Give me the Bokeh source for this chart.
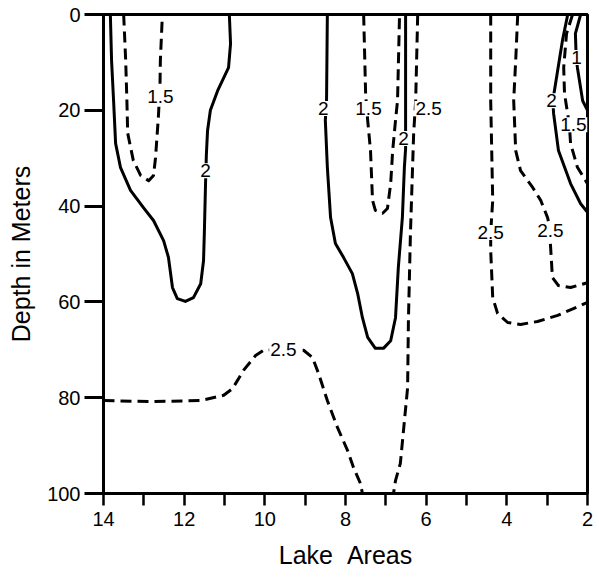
from bokeh.plotting import figure
from bokeh.models import Range1d, FixedTicker, ColumnDataSource
from bokeh.embed import file_html
from bokeh.resources import INLINE
from bokeh.core.properties import value

FONT = "Liberation Sans"

# Contour lines: lake area (x) vs depth in meters (y)
# left solid "2"
s2a_x = [13.83, 13.80, 13.75, 13.70, 13.58, 13.33, 13.01, 12.76, 12.51, 12.39, 12.29, 12.17, 11.97, 11.77, 11.59, 11.52, 11.50, 11.47, 11.45, 11.42, 11.35, 11.17, 10.90, 10.85, 10.88]
s2a_d = [0, 9.6, 18.0, 26.9, 31.9, 36.7, 40.3, 43.0, 47.2, 50.7, 57.0, 59.3, 59.9, 59.1, 56.2, 51.4, 45.7, 35.3, 29.4, 24.2, 20.0, 15.9, 11.1, 6.1, 0]
# left dashed "1.5"
d15a_x = [13.50, 13.45, 13.42, 13.40, 13.26, 13.08, 12.88, 12.76, 12.71, 12.64, 12.60, 12.59, 12.54]
d15a_d = [0, 9.6, 18.0, 24.8, 30.5, 33.6, 34.7, 33.6, 29.9, 21.5, 15.0, 9.6, 0]
# middle solid "2"
s2b_x = [8.45, 8.47, 8.50, 8.45, 8.37, 8.25, 8.05, 7.83, 7.70, 7.58, 7.45, 7.26, 7.06, 6.88, 6.76, 6.69, 6.59, 6.54, 6.51, 6.51, 6.51]
s2b_d = [0, 18.0, 22.1, 31.9, 42.4, 47.8, 50.7, 54.1, 58.2, 63.3, 67.4, 69.7, 69.7, 68.1, 63.3, 52.8, 42.4, 31.9, 28.0, 18.0, 0]
# middle dashed "1.5"
d15b_x = [7.55, 7.50, 7.45, 7.38, 7.33, 7.26, 7.08, 6.96, 6.88, 6.83, 6.76, 6.71, 6.66]
d15b_d = [0, 16.9, 22.1, 28.4, 38.8, 40.9, 41.5, 40.5, 35.3, 28.4, 22.1, 18.0, 0]
# middle dashed "2.5" reaching the bottom
d25b_x = [6.21, 6.26, 6.31, 6.39, 6.44, 6.46, 6.64, 6.76, 6.81]
d25b_d = [0, 18.0, 24.8, 45.7, 63.9, 77.9, 93.7, 97.3, 100]
# lower dashed "2.5"
d25a_x = [14.0, 12.83, 11.59, 11.02, 10.80, 10.53, 10.23, 10.03, 9.54, 9.04, 8.82, 8.67, 8.45, 8.20, 7.95, 7.80, 7.63, 7.58]
d25a_d = [80.6, 80.8, 80.6, 79.5, 78.1, 74.3, 71.2, 70.1, 69.9, 70.1, 71.6, 74.9, 80.6, 86.2, 91.0, 94.6, 97.9, 100]
# right dashed "2.5" outer
d25c_x = [4.40, 4.40, 4.35, 4.40, 4.40, 4.35, 4.23, 3.98, 3.66, 3.24, 2.74, 2.35, 2.00]
d25c_d = [0, 18.0, 38.8, 45.5, 49.3, 59.1, 62.4, 64.3, 64.7, 64.1, 62.8, 61.4, 60.1]
# right dashed "2.5" inner
d25d_x = [3.73, 3.78, 3.83, 3.78, 3.66, 3.36, 3.16, 2.99, 2.92, 2.92, 2.87, 2.72, 2.42, 2.00]
d25d_d = [0, 9.6, 18.0, 28.4, 32.6, 36.1, 38.8, 42.4, 45.1, 47.8, 54.9, 56.6, 57.0, 56.0]
# right solid "2"
s2c_x = [2.49, 2.62, 2.74, 2.86, 2.84, 2.72, 2.42, 2.17, 2.00]
s2c_d = [0, 5.4, 11.7, 18.0, 20.7, 28.4, 35.3, 39.5, 41.3]
# right dashed "1.5"
d15c_x = [2.37, 2.52, 2.59, 2.57, 2.45, 2.42, 2.25, 2.00]
d15c_d = [0, 4.0, 11.1, 16.5, 23.0, 26.9, 31.9, 35.3]
# right solid "1"
s1_x = [2.17, 2.30, 2.28, 2.25, 2.12, 2.00]
s1_d = [0, 4.0, 9.0, 11.1, 18.0, 20.0]

# contour labels
lab_x = [12.59, 11.47, 8.55, 7.43, 6.56, 5.94, 9.54, 4.40, 2.92, 2.89, 2.35, 2.27]
lab_d = [17.1, 32.6, 19.6, 19.6, 25.9, 19.6, 69.9, 45.5, 45.1, 18.0, 23.0, 9.0]
lab_t = ["1.5", "2", "2", "1.5", "2", "2.5", "2.5", "2.5", "2.5", "2", "1.5", "1"]

x_ticks = [2, 3, 4, 5, 6, 7, 8, 9, 10, 11, 12, 13, 14]
x_labels = {2: "2", 4: "4", 6: "6", 8: "8", 10: "10", 12: "12", 14: "14"}
y_ticks = [0, 20, 40, 60, 80, 100]

p = figure(width=599, height=577, output_backend="svg", toolbar_location=None,
           x_range=Range1d(14, 2), y_range=Range1d(100, 0),
           min_border_left=103, min_border_right=12, min_border_top=14, min_border_bottom=84)
p.background_fill_color = "white"
p.border_fill_color = "white"
p.grid.visible = False
p.outline_line_color = "black"
p.outline_line_width = 3
p.outline_line_alpha = 1

solid = [(s2a_x, s2a_d), (s2b_x, s2b_d), (s2c_x, s2c_d), (s1_x, s1_d)]
dashed = [(d15a_x, d15a_d), (d15b_x, d15b_d), (d25b_x, d25b_d), (d25a_x, d25a_d),
          (d25c_x, d25c_d), (d25d_x, d25d_d), (d15c_x, d15c_d)]
for xs, ds in solid:
    p.line(xs, ds, line_color="black", line_width=3, line_join="round")
for xs, ds in dashed:
    p.line(xs, ds, line_color="black", line_width=3, line_dash="11 6", line_join="round")

src = ColumnDataSource(dict(x=lab_x, y=lab_d, t=lab_t))
p.text(x="x", y="y", text="t", source=src, text_font=value(FONT), text_font_size="19px",
       text_align="center", text_baseline="middle", text_color="black",
       background_fill_color="white", padding=1)

xa = p.xaxis[0]
xa.ticker = FixedTicker(ticks=x_ticks)
xa.major_label_overrides = {t: x_labels.get(t, "") for t in x_ticks}
xa.minor_tick_line_color = None
xa.major_tick_out = 12
xa.major_tick_in = 0
xa.major_tick_line_width = 2.5
xa.major_tick_line_color = "black"
xa.axis_line_width = 3
xa.axis_line_color = "black"
xa.major_label_text_font = FONT
xa.major_label_text_font_size = "20px"
xa.major_label_text_color = "black"
xa.major_label_standoff = 6
xa.axis_label = "Lake\u00a0\u00a0Areas"
xa.axis_label_text_font = FONT
xa.axis_label_text_font_size = "25px"
xa.axis_label_text_font_style = "normal"
xa.axis_label_text_color = "black"
xa.axis_label_standoff = 12

ya = p.yaxis[0]
ya.ticker = FixedTicker(ticks=y_ticks)
ya.minor_tick_line_color = None
ya.major_tick_out = 19
ya.major_tick_in = 0
ya.major_tick_line_width = 3
ya.major_tick_line_color = "black"
ya.axis_line_width = 3
ya.axis_line_color = "black"
ya.major_label_text_font = FONT
ya.major_label_text_font_size = "20px"
ya.major_label_text_color = "black"
ya.major_label_standoff = 4
ya.axis_label = "Depth in Meters"
ya.axis_label_text_font = FONT
ya.axis_label_text_font_size = "25px"
ya.axis_label_text_font_style = "normal"
ya.axis_label_text_color = "black"
ya.axis_label_standoff = 9

open("out.html", "w").write(file_html(p, INLINE))
